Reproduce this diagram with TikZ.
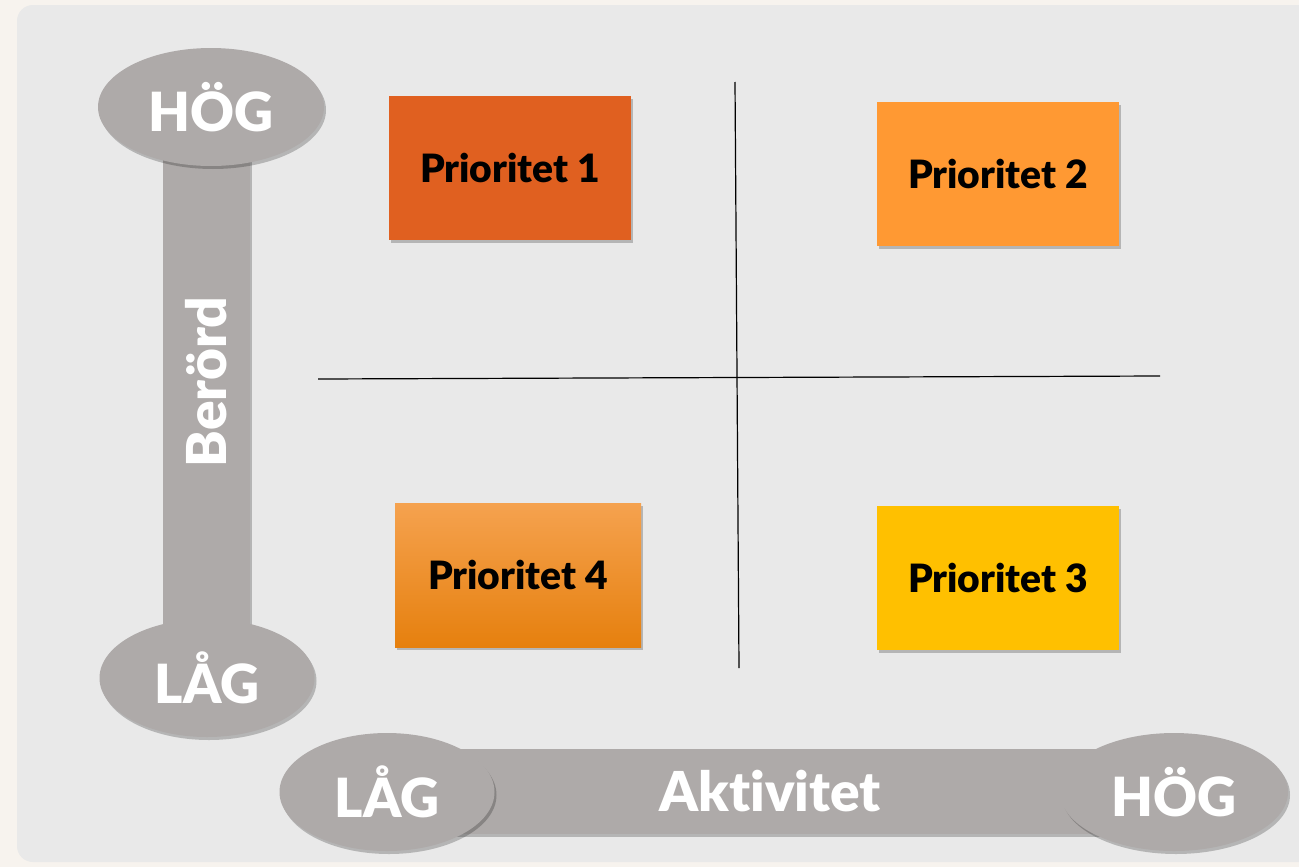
\documentclass[tikz,border=0pt]{standalone}
\usepackage{fontspec}
\setmainfont{Lato}[BoldFont={Lato Black}, Ligatures={NoCommon}]
\usetikzlibrary{positioning,shapes.geometric,shadows}
\definecolor{page-color}{HTML}{F7F3EE}
\definecolor{panel-color}{HTML}{E9E9E9}
\definecolor{axis-color}{HTML}{AEAAA9}
\definecolor{p1-color}{HTML}{E06020}
\definecolor{p2-color}{HTML}{FF9933}
\definecolor{p3-color}{HTML}{FFC000}
\definecolor{p4-top}{HTML}{F5A24F}
\definecolor{p4-mid}{HTML}{F7941D}
\definecolor{p4-bottom}{HTML}{E6800E}
\tikzset{
  softshadow/.style={drop shadow={shadow xshift=1pt, shadow yshift=-1.5pt, opacity=0.22, fill=black}},
  level/.style={ellipse, fill=axis-color, softshadow, minimum height=59pt, inner sep=0,
    text=white, font=\fontsize{27}{31}\selectfont\bfseries},
  axisbar/.style={rectangle, fill=axis-color, softshadow, inner sep=0,
    text=white, font=\fontsize{27.5}{31}\selectfont\bfseries},
  prio/.style={rectangle, minimum width=121pt, minimum height=72pt, softshadow,
    font=\fontsize{19.5}{22}\selectfont\bfseries},
  p1/.style={prio, fill=p1-color},
  p2/.style={prio, fill=p2-color},
  p3/.style={prio, fill=p3-color},
  p4/.style={prio, top color=p4-top, middle color=p4-mid, bottom color=p4-bottom},
  divider/.style={black, line width=0.6pt}
}
\begin{document}
\begin{tikzpicture}[x=0.5pt, y=-0.5pt]
  \useasboundingbox (0,0) rectangle (1299,867);
  \clip (0,0) rectangle (1299,867);
  \fill[page-color] (0,0) rectangle (1299,867);
  \fill[panel-color, rounded corners=8pt] (17,5) rectangle (1330,862);

  % Berörd axis
  \node[axisbar, rotate=90, minimum width=250pt, minimum height=43.5pt] (beroerd) at (206,382) {Berörd};
  \node[level, minimum width=113pt] (beroerd-hi) at (211,107) {HÖG};
  \node[level, minimum width=107.5pt] (beroerd-lo) at (207,678) {LÅG};

  % Aktivitet axis
  \node[axisbar, minimum width=330pt, minimum height=42.5pt] (aktivitet) at (770,791) {Aktivitet};
  \node[level, minimum width=107.5pt] (aktivitet-lo) at (387,792) {LÅG};
  \node[level, minimum width=114pt] (aktivitet-hi) at (1174,792) {HÖG};

  % quadrants
  \coordinate (top) at (735,82);
  \coordinate (bottom) at (739,668);
  \coordinate (left) at (318,379);
  \coordinate (right) at (1160,376);
  \draw[divider] (top) -- (bottom);
  \draw[divider] (left) -- (right);

  \node[p1] (prio1) at (510,168) {Prioritet 1};
  \node[p2] (prio2) at (998,174) {Prioritet 2};
  \node[p4, minimum width=123pt] (prio4) at (518,575) {Prioritet 4};
  \node[p3] (prio3) at (998,578) {Prioritet 3};
\end{tikzpicture}
\end{document}
